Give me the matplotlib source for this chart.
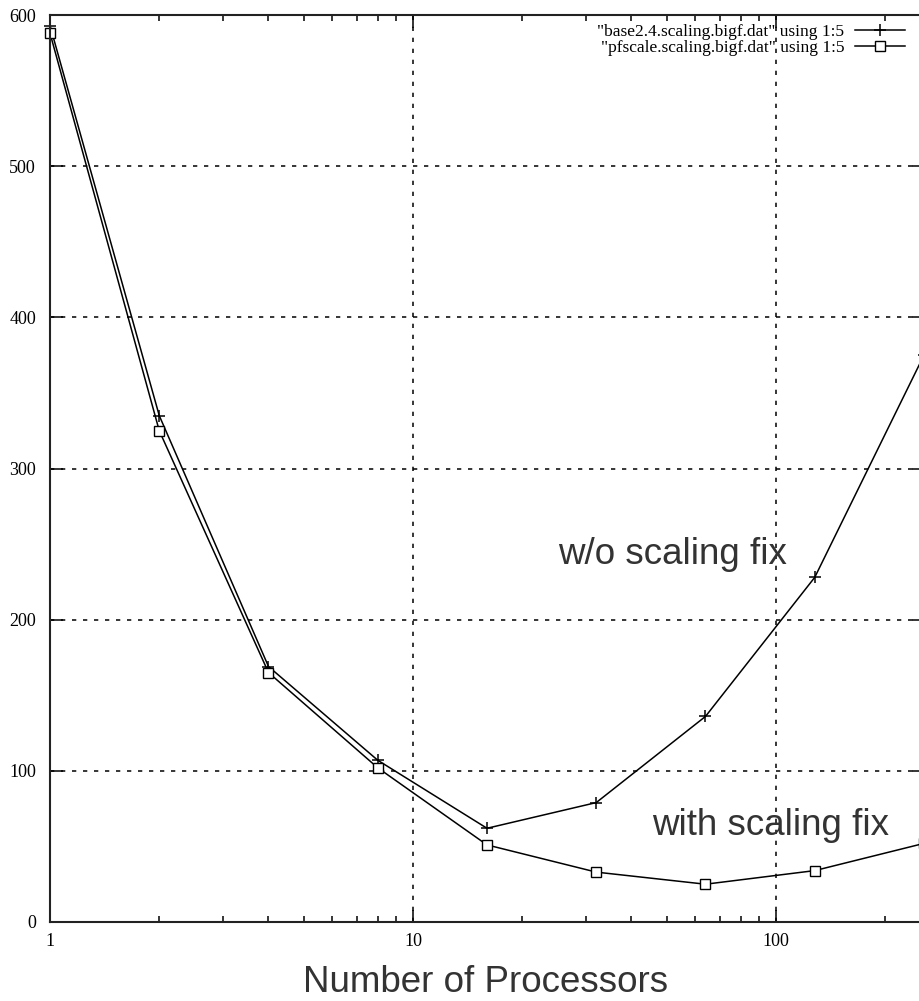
import numpy as np
import matplotlib
matplotlib.use("Agg")
from matplotlib import pyplot as plt
from matplotlib.ticker import FixedLocator, NullFormatter

# processors vs. column 5 of the two scaling runs
procs = [1, 2, 4, 8, 16, 32, 64, 128, 256]
base_vals = [593, 335, 169, 107, 62, 79, 136, 228, 375]
pfscale_vals = [588, 325, 165, 102, 51, 33, 25, 34, 52]

base_label = '"base2.4.scaling.bigf.dat" using 1:5'
pfscale_label = '"pfscale.scaling.bigf.dat" using 1:5'

y_ticks = [0, 100, 200, 300, 400, 500, 600]
x_ticks = [1, 10, 100]
x_minor = [2, 3, 4, 5, 6, 7, 8, 9, 20, 30, 40, 50, 60, 70, 80, 90, 200]

W, H = 920, 1001
fig = plt.figure(figsize=(W / 100, H / 100), dpi=100)
# the original is cropped on the right, so the axes run slightly past the edge
ax = fig.add_axes([50 / W, 1 - 922 / H, 874 / W, (922 - 15) / H])

ax.plot(procs, base_vals, color="black", lw=1.1, marker="+", ms=8, mew=1.1,
        label=base_label, clip_on=False)
ax.plot(procs, pfscale_vals, color="black", lw=1.1, marker="s", ms=6.5,
        mfc="white", mew=1.0, label=pfscale_label, clip_on=False)

ax.set_xscale("log")
ax.set_xlim(1, 256)
ax.set_ylim(0, 600)
ax.xaxis.set_major_locator(FixedLocator(x_ticks))
ax.xaxis.set_minor_locator(FixedLocator(x_minor))
ax.xaxis.set_minor_formatter(NullFormatter())
ax.set_xticklabels([str(t) for t in x_ticks])
ax.set_yticks(y_ticks)

tick_font = "Liberation Serif"
ax.tick_params(which="major", direction="in", length=9, width=1.1,
               top=True, right=True, labelsize=13, pad=8)
ax.tick_params(which="minor", direction="in", length=4.5, width=1.1,
               top=True, right=True)
ax.tick_params(axis="y", pad=10)
for lab in ax.get_xticklabels() + ax.get_yticklabels():
    lab.set_family(tick_font)

for s in ax.spines.values():
    s.set_linewidth(1.5)
    s.set_color("#222222")

ax.grid(True, which="major", color="black", lw=1.1, linestyle=(0, (2.8, 4.4)))

ax.legend(loc="upper right", bbox_to_anchor=(905 / W, 1 - 24 / H),
          bbox_transform=fig.transFigure, frameon=False, markerfirst=False,
          prop={"family": tick_font, "size": 12.5}, handlelength=2.9,
          handletextpad=0.6, labelspacing=0.0, borderpad=0, borderaxespad=0)

txt_col = "#333333"
fig.text(558 / W, 1 - 564 / H, "w/o scaling fix", fontsize=26.5, color=txt_col,
         family="Liberation Sans", ha="left", va="baseline")
fig.text(652 / W, 1 - 835 / H, "with scaling fix", fontsize=26.5, color=txt_col,
         family="Liberation Sans", ha="left", va="baseline")
fig.text(486 / W, 1 - 992 / H, "Number of Processors", fontsize=26.5, color=txt_col,
         family="Liberation Sans", ha="center", va="baseline")

fig.savefig("out.png", dpi=100)
